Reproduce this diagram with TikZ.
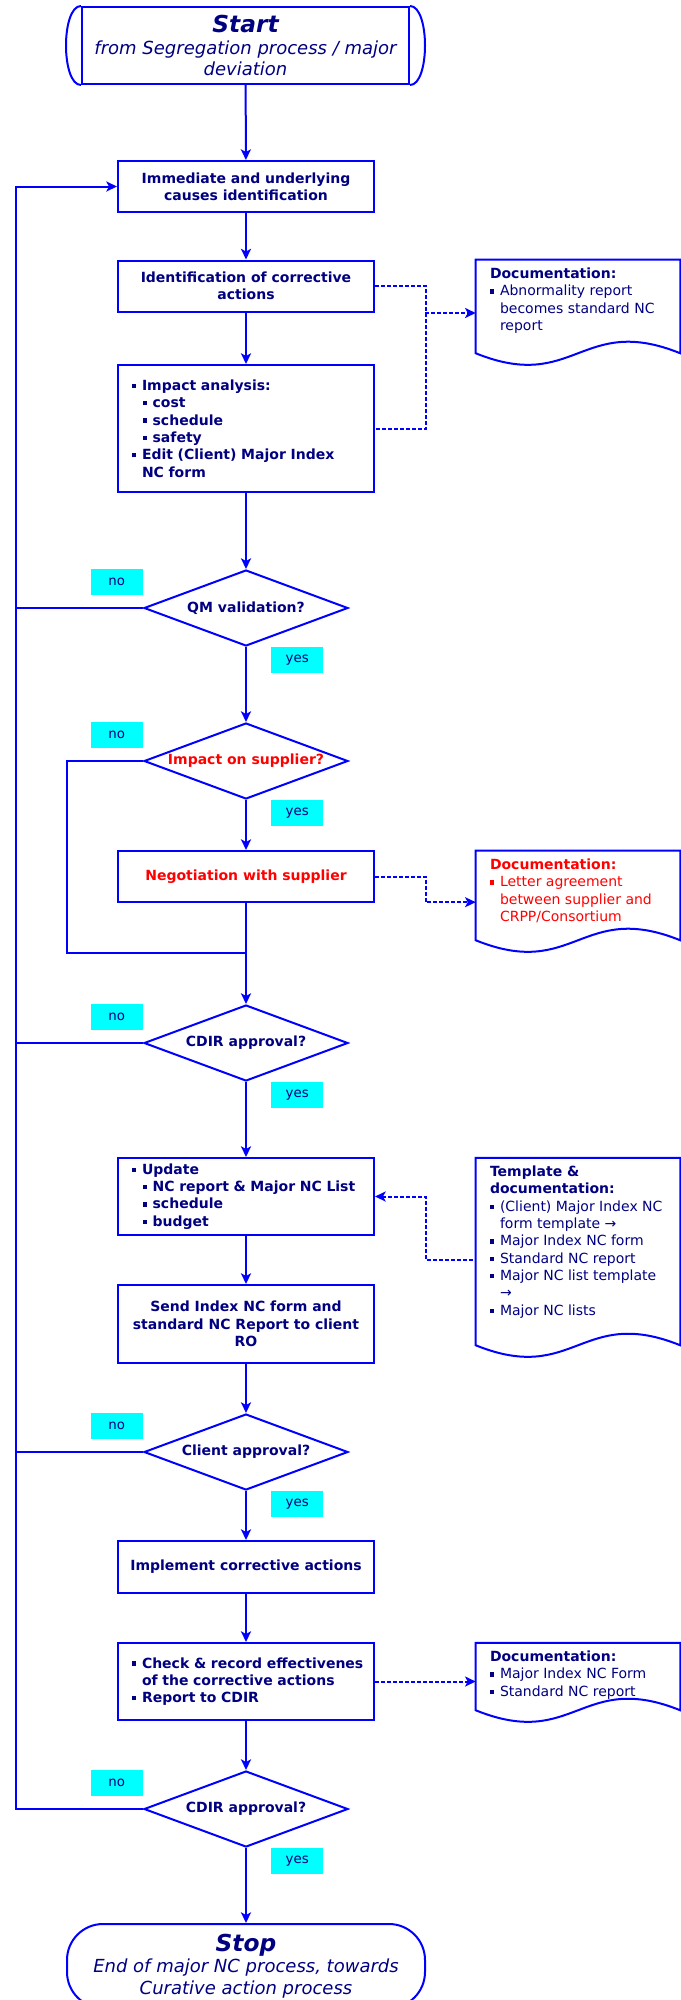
\documentclass[tikz,border=0pt]{standalone}
\usepackage{fontspec}
\setmainfont{DejaVu Sans}
\usetikzlibrary{shapes.geometric,arrows.meta}
\definecolor{navy}{RGB}{0,0,128}
\definecolor{aqua}{RGB}{0,255,255}
\newcommand{\itembul}{\makebox[7.5pt][l]{\rule[1.8pt]{3pt}{3.2pt}}}
\newcommand{\subbul}{\hspace*{8pt}\itembul}
\newcommand{\hangin}{\hspace*{7.5pt}}

\begin{document}
\begin{tikzpicture}[x=0.75pt,y=-0.75pt]
  \tikzset{procbox/.style = {shape=rectangle,draw=blue,line width=1.5pt,text=navy,font=\bfseries\fontsize{10.5}{13}\selectfont,minimum width=192pt,align=center,inner sep=2pt}}
  \tikzset{listbox/.style = {procbox,align=left,text width=171pt,inner xsep=10.5pt}}
  \tikzset{termbox/.style = {procbox,font=\itshape\fontsize{13.5}{16}\selectfont}}
  \tikzset{decision/.style = {shape=diamond,draw=blue,line width=1.5pt,text=navy,font=\bfseries\fontsize{10.5}{12}\selectfont,minimum width=153pt,minimum height=57pt,aspect=2.68,inner sep=0pt}}
  \tikzset{answer/.style = {fill=aqua,text=navy,font=\fontsize{10}{12}\selectfont,minimum width=39pt,minimum height=19.5pt,inner sep=0pt}}
  \tikzset{docshape/.style = {shape=rectangle,minimum width=153pt,inner sep=0pt}}
  \tikzset{doctext/.style = {text=navy,font=\fontsize{10.5}{13}\selectfont,align=left,inner sep=0pt,anchor=north west}}
  \tikzset{plainline/.style = {draw=blue,line width=1.5pt}}
  \tikzset{flowline/.style = {plainline,-{Stealth[length=8pt,width=7.5pt,inset=2pt]}}}
  \tikzset{docline/.style = {plainline,dash pattern=on 3pt off 1.5pt}}
  \tikzset{docarrow/.style = {docline,-{Stealth[length=8pt,width=7.5pt,inset=2pt]}}}

  \useasboundingbox (0,0) rectangle (681,2000);

  % main column
  \node[termbox,minimum width=245.25pt,minimum height=57.75pt] (start) at (245.5,45.5)
    {{\bfseries\fontsize{17.5}{20}\selectfont Start}\\from Segregation process / major\\deviation};
  \draw[plainline] (start.north west) .. controls +(-20,0) and +(-20,0) .. (start.south west);
  \draw[plainline] (start.north east) .. controls +(20,0) and +(20,0) .. (start.south east);

  \node[procbox,minimum height=38.25pt] (causes) at (246,186.5) {Immediate and underlying\\causes identification};
  \node[procbox,minimum height=38.25pt] (corr) at (246,286) {Identification of corrective\\actions};
  \node[listbox,minimum height=95.25pt] (impact) at (246,428.5)
    {\itembul Impact analysis:\\\subbul cost\\\subbul schedule\\\subbul safety\\\itembul Edit (Client) Major Index\\\hangin NC form};

  \node[decision] (qm) at (246,608) {QM validation?};
  \node[decision,text=red] (supp) at (246,761) {Impact on supplier?};
  \node[procbox,text=red,minimum height=38.25pt] (nego) at (246,876.5) {Negotiation with supplier};
  \node[decision] (cdira) at (246,1043) {CDIR approval?};
  \node[listbox,minimum height=57.75pt] (update) at (246,1196.5)
    {\itembul Update\\\subbul \mbox{NC report \& Major NC List}\\\subbul schedule\\\subbul budget};
  \node[procbox,minimum height=58.5pt] (send) at (246,1324) {Send Index NC form and\\standard NC Report to client\\RO};
  \node[decision] (client) at (246,1452) {Client approval?};
  \node[procbox,minimum height=39pt] (impl) at (246,1567) {Implement corrective actions};
  \node[listbox,minimum height=57.75pt] (check) at (246,1681.5)
    {\itembul \mbox{Check \& record effectivenes}\\\hangin of the corrective actions\\\itembul Report to CDIR};
  \node[decision] (cdirb) at (246,1809) {CDIR approval?};
  \node[termbox,rounded corners=27pt,minimum width=268.5pt,minimum height=63pt] (stop) at (246,1966)
    {{\bfseries\fontsize{17.5}{20}\selectfont Stop}\\End of major NC process, towards\\Curative action process};

  % yes / no
  \foreach \d in {qm,supp,cdira,client,cdirb}{
    \node[answer,anchor=north east] (\d no) at (\d.north -| \d.west) {no};
    \node[answer,anchor=north west] (\d yes) at ([xshift=18.75pt]\d.south) {yes};
  }

  % documents
  \node[docshape,minimum height=69.75pt] (doca) at (578,306.5) {};
  \node[docshape,minimum height=66.75pt] (docb) at (578,895.5) {};
  \node[docshape,minimum height=140.25pt] (docc) at (578,1251.5) {};
  \node[docshape,minimum height=50.25pt] (docd) at (578,1676.5) {};
  \foreach \d in {doca,docb,docc,docd}
    \draw[plainline] (\d.north west) -- (\d.north east) -- (\d.south east)
      .. controls +(-99,-40) and +(99,40) .. (\d.south west) -- cycle;

  \node[doctext] (docatxt) at ([xshift=10.5pt,yshift=-6pt]doca.north west)
    {\textbf{Documentation:}\\\itembul Abnormality report\\\hangin becomes standard NC\\\hangin report};
  \node[doctext,text=red] (docbtxt) at ([xshift=10.5pt,yshift=-6pt]docb.north west)
    {\textbf{Documentation:}\\\itembul Letter agreement\\\hangin between supplier and\\\hangin CRPP/Consortium};
  \node[doctext] (docctxt) at ([xshift=10.5pt,yshift=-6pt]docc.north west)
    {\textbf{Template \&}\\\textbf{documentation:}\\\itembul (Client) Major Index NC\\\hangin form template →\\\itembul Major Index NC form\\\itembul Standard NC report\\\itembul Major NC list template\\\hangin →\\\itembul Major NC lists};
  \node[doctext] (docdtxt) at ([xshift=10.5pt,yshift=-6pt]docd.north west)
    {\textbf{Documentation:}\\\itembul Major Index NC Form\\\itembul Standard NC report};

  % flow
  \draw[flowline] (start) -- (causes);
  \draw[flowline] (causes) -- (corr);
  \draw[flowline] (corr) -- (impact);
  \draw[flowline] (impact) -- (qm);
  \draw[flowline] (qm) -- (supp);
  \draw[flowline] (supp) -- (nego);
  \coordinate (merge) at (246,953);
  \coordinate (bypass) at (66.5,953);
  \draw[plainline] (nego) -- (merge);
  \draw[plainline] (supp.west) -| (bypass) -- (merge);
  \draw[flowline] (merge) -- (cdira);
  \draw[flowline] (cdira) -- (update);
  \draw[flowline] (update) -- (send);
  \draw[flowline] (send) -- (client);
  \draw[flowline] (client) -- (impl);
  \draw[flowline] (impl) -- (check);
  \draw[flowline] (check) -- (cdirb);
  \draw[flowline] (cdirb) -- (stop);

  % back loop
  \coordinate (loop) at (15.6,1809);
  \draw[flowline] (cdirb.west) -- (loop) |- (causes.west);
  \draw[plainline] (qm.west) -- (qm.west -| loop);
  \draw[plainline] (cdira.west) -- (cdira.west -| loop);
  \draw[plainline] (client.west) -- (client.west -| loop);

  % documentation links
  \coordinate (dabus) at (425,313);
  \draw[docline] (corr.east) -- ++(51,0) |- (impact.east);
  \draw[docarrow] (dabus) -- (dabus -| doca.west);
  \draw[docarrow] (nego.east) -- ++(51,0) |- ([yshift=-5pt]docb.west);
  \draw[docarrow,{Stealth[length=8pt,width=7.5pt,inset=2pt]}-] (update.east) -- ++(51,0) |- ([yshift=-6pt]docc.west);
  \draw[docarrow] (check.east) -- (check.east -| docd.west);
\end{tikzpicture}
\end{document}
